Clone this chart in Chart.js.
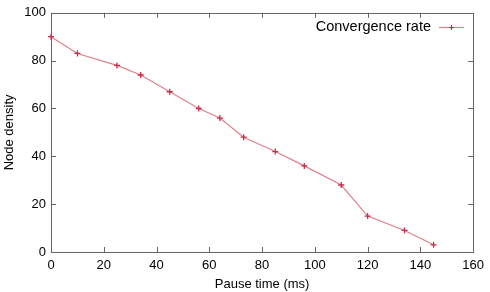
<!DOCTYPE html>
<html>
<head>
<meta charset="utf-8">
<script src="https://cdn.jsdelivr.net/npm/chart.js@4/dist/chart.umd.min.js"></script>
<style>
html,body{margin:0;padding:0;background:#fff;}
#wrap{width:490px;height:292px;position:relative;}
</style>
</head>
<body>
<div id="wrap"><canvas id="c" width="490" height="292"></canvas></div>
<script>
const pauseTimes = [0, 10, 25, 34, 45, 56, 64, 73, 85, 96, 110, 120, 134, 145];
const nodeDensity = [90, 83, 78, 74, 67, 60, 56, 48, 42, 36, 28, 15, 9, 3];
const xTicks = [0, 20, 40, 60, 80, 100, 120, 140, 160];
const yTicks = [0, 20, 40, 60, 80, 100];
const seriesName = 'Convergence rate';
const xTitle = 'Pause time (ms)';
const yTitle = 'Node density';

const FONT = '"Liberation Sans", Arial, Helvetica, sans-serif';
const lineColor = '#e07f8a';
const markColor = '#cc2a44';
const frameColor = '#666';

const framePlugin = {
  id: 'frame',
  afterDraw(chart) {
    const {ctx, chartArea: a, scales} = chart;
    ctx.save();
    ctx.strokeStyle = frameColor;
    ctx.lineWidth = 1;
    ctx.strokeRect(Math.round(a.left) + 0.5, Math.round(a.top) + 0.5, Math.round(a.right - a.left), Math.round(a.bottom - a.top));
    const tl = 5;
    ctx.beginPath();
    xTicks.forEach(v => {
      const x = Math.round(scales.x.getPixelForValue(v)) + 0.5;
      ctx.moveTo(x, a.bottom); ctx.lineTo(x, a.bottom - tl);
      ctx.moveTo(x, a.top); ctx.lineTo(x, a.top + tl);
    });
    yTicks.forEach(v => {
      const y = Math.round(scales.y.getPixelForValue(v)) + 0.5;
      ctx.moveTo(a.left, y); ctx.lineTo(a.left + tl, y);
      ctx.moveTo(a.right, y); ctx.lineTo(a.right - tl, y);
    });
    ctx.stroke();
    // legend
    const ly = 27;
    const lx1 = 439, lx2 = 464;
    ctx.font = '14.5px ' + FONT;
    ctx.fillStyle = '#000';
    ctx.textAlign = 'right';
    ctx.textBaseline = 'middle';
    ctx.fillText(seriesName, 431, ly);
    ctx.strokeStyle = lineColor;
    ctx.lineWidth = 1.2;
    ctx.beginPath(); ctx.moveTo(lx1, ly + 0.5); ctx.lineTo(lx2, ly + 0.5); ctx.stroke();
    ctx.strokeStyle = markColor;
    ctx.lineWidth = 1.2;
    const mx = (lx1 + lx2) / 2;
    ctx.beginPath();
    ctx.moveTo(mx - 2.5, ly + 0.5); ctx.lineTo(mx + 2.5, ly + 0.5);
    ctx.moveTo(mx, ly - 2); ctx.lineTo(mx, ly + 3);
    ctx.stroke();
    ctx.restore();
  }
};

new Chart(document.getElementById('c'), {
  type: 'scatter',
  data: {
    datasets: [{
      label: seriesName,
      data: pauseTimes.map((x, i) => ({x, y: nodeDensity[i]})),
      showLine: true,
      clip: false,
      borderColor: lineColor,
      borderWidth: 1.2,
      pointStyle: 'cross',
      pointRadius: 3,
      pointBorderColor: markColor,
      pointBorderWidth: 1.3,
      pointBackgroundColor: markColor,
      tension: 0
    }]
  },
  options: {
    responsive: false,
    animation: false,
    devicePixelRatio: 1,
    layout: {padding: {top: 7, right: 12, left: 0, bottom: 0}},
    plugins: {legend: {display: false}, tooltip: {enabled: false}},
    scales: {
      x: {
        type: 'linear', min: 0, max: 160,
        afterBuildTicks(s) { s.ticks = xTicks.map(v => ({value: v})); },
        grid: {display: false, drawTicks: false},
        border: {display: false},
        ticks: {color: '#000', font: {family: FONT, size: 13}, padding: 6, maxRotation: 0, autoSkip: false},
        title: {display: true, text: xTitle, color: '#000', font: {family: FONT, size: 13}, padding: {top: 1, bottom: 0}},
        afterFit(s) { s.height = 40; }
      },
      y: {
        type: 'linear', min: 0, max: 100,
        afterBuildTicks(s) { s.ticks = yTicks.map(v => ({value: v})); },
        grid: {display: false, drawTicks: false},
        border: {display: false},
        ticks: {color: '#000', font: {family: FONT, size: 13}, padding: 5, autoSkip: false},
        title: {display: true, text: yTitle, color: '#000', font: {family: FONT, size: 13}, padding: {top: 2, bottom: 2}},
        afterFit(s) { s.width = 51; }
      }
    }
  },
  plugins: [framePlugin]
});
</script>
</body>
</html>
